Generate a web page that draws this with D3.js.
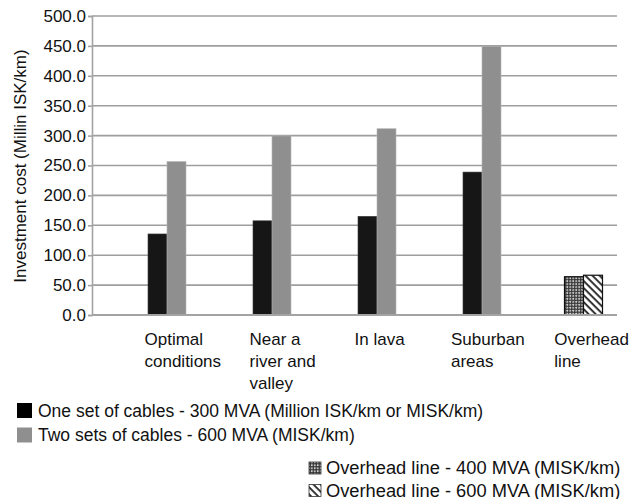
<!DOCTYPE html>
<html>
<head>
<meta charset="utf-8">
<script src="https://cdn.jsdelivr.net/npm/d3@7"></script>
<style>
  body { margin: 0; background: #fff; }
  svg { display: block; }
  text { font-family: "Liberation Sans", Arial, Helvetica, sans-serif; fill: #111; }
</style>
</head>
<body>
<svg id="chart" width="631" height="499"></svg>
<script>
// ---- data ----
const categories = [
  ["Optimal", "conditions"],
  ["Near a", "river and", "valley"],
  ["In lava"],
  ["Suburban", "areas"],
  ["Overhead", "line"]
];
const categoryKeys = ["Optimal conditions", "Near a river and valley", "In lava", "Suburban areas", "Overhead line"];
const cableSeries = ["One set of cables - 300 MVA (Million ISK/km or MISK/km)", "Two sets of cables - 600 MVA (MISK/km)"];
const oneSetValues = [135.5, 157.5, 165.0, 239.0, null];
const twoSetValues = [256.5, 299.5, 311.5, 449.5, null];
const overheadSeries = ["Overhead line - 400 MVA (MISK/km)", "Overhead line - 600 MVA (MISK/km)"];
const overhead400Values = [null, null, null, null, 64.0];
const overhead600Values = [null, null, null, null, 66.5];
const yTicks = [0, 50, 100, 150, 200, 250, 300, 350, 400, 450, 500];
const yTitle = "Investment cost (Millin ISK/km)";

// ---- layout ----
const svg = d3.select("#chart");
const pLeft = 92, pRight = 617, pTop = 16, pBottom = 315;
const fs = 17;

const x = d3.scaleBand().domain(categoryKeys).range([pLeft, pRight]).paddingInner(0).paddingOuter(0);
const y = d3.scaleLinear().domain([0, 500]).range([pBottom, pTop]);
const barW = 19;

const defs = svg.append("defs");
const p1 = defs.append("pattern").attr("id", "checks").attr("patternUnits", "userSpaceOnUse")
  .attr("width", 4.2).attr("height", 4.2).attr("patternTransform", "rotate(45)");
p1.append("rect").attr("width", 4.2).attr("height", 4.2).attr("fill", "#3a3a3a");
p1.append("rect").attr("x", 0.6).attr("y", 0.6).attr("width", 1.5).attr("height", 1.5).attr("fill", "#fff");
p1.append("rect").attr("x", 2.7).attr("y", 2.7).attr("width", 1.5).attr("height", 1.5).attr("fill", "#fff");
const p2 = defs.append("pattern").attr("id", "stripes").attr("patternUnits", "userSpaceOnUse")
  .attr("width", 5).attr("height", 5).attr("patternTransform", "rotate(45)");
p2.append("rect").attr("width", 5).attr("height", 5).attr("fill", "#fff");
p2.append("rect").attr("width", 5).attr("height", 1.8).attr("fill", "#222");

// gridlines
svg.append("g").selectAll("line").data(yTicks.filter(d => d > 0)).join("line")
  .attr("x1", pLeft).attr("x2", pRight)
  .attr("y1", d => y(d)).attr("y2", d => y(d))
  .attr("stroke", "#9e9e9e").attr("stroke-width", 1.6);

// y axis
const yAxis = d3.axisLeft(y).tickValues(yTicks).tickFormat(d3.format(".1f")).tickSize(4).tickPadding(2);
const ya = svg.append("g").attr("transform", `translate(${pLeft},0)`).call(yAxis);
ya.select(".domain").attr("stroke", "#a3a3a3").attr("stroke-width", 1.6);
ya.selectAll(".tick line").attr("stroke", "#a3a3a3").attr("stroke-width", 1.6);
ya.selectAll(".tick text").attr("font-size", fs).attr("fill", "#111")
  .attr("font-family", "Liberation Sans, Arial, sans-serif");

// bars - cables
const cableData = [oneSetValues, twoSetValues];
const cableColors = ["#161616", "#8f8f8f"];
cableData.forEach((vals, si) => {
  svg.append("g").selectAll("rect").data(categoryKeys.map((c, i) => ({c, v: vals[i]})).filter(d => d.v != null))
    .join("rect")
    .attr("x", d => x(d.c) + x.bandwidth() / 2 + 3.5 + si * barW)
    .attr("y", d => y(d.v))
    .attr("width", barW)
    .attr("height", d => y(0) - y(d.v))
    .attr("fill", cableColors[si])
    .attr("stroke", si === 0 ? "#3a3a3a" : "#b5b5b5").attr("stroke-width", 0.6);
});
// bars - overhead
const ohData = [overhead400Values, overhead600Values];
const ohFills = ["url(#checks)", "url(#stripes)"];
ohData.forEach((vals, si) => {
  svg.append("g").selectAll("rect").data(categoryKeys.map((c, i) => ({c, v: vals[i]})).filter(d => d.v != null))
    .join("rect")
    .attr("x", d => x(d.c) + x.bandwidth() / 2 + si * barW)
    .attr("y", d => y(d.v))
    .attr("width", barW)
    .attr("height", d => y(0) - y(d.v))
    .attr("fill", ohFills[si])
    .attr("stroke", "#111").attr("stroke-width", 1.2);
});

// x axis baseline
svg.append("line").attr("x1", pLeft).attr("x2", pRight).attr("y1", y(0)).attr("y2", y(0))
  .attr("stroke", "#a3a3a3").attr("stroke-width", 1.8);

// category labels (left aligned, starting at category center, kept inside the page)
const labG = svg.append("g");
categoryKeys.forEach((c, i) => {
  const t = labG.append("text").attr("font-size", fs);
  categories[i].forEach((line, li) => {
    t.append("tspan").attr("x", 0).attr("y", 345 + li * 22).text(line);
  });
  const w = t.node().getBBox().width;
  let x0 = x(c) + x.bandwidth() / 2;
  if (i === 3) x0 -= 8.5;
  if (x0 + w > 629) x0 = 629 - w;
  t.attr("transform", `translate(${x0},0)`);
});

// y title
svg.append("text").attr("transform", `translate(26,166) rotate(-90)`)
  .attr("text-anchor", "middle").attr("font-size", fs).text(yTitle);

// legends
const leg1 = svg.append("g");
cableSeries.forEach((s, i) => {
  const yy = 403 + i * 24.5;
  leg1.append("rect").attr("x", 17).attr("y", yy).attr("width", 15).attr("height", 15)
    .attr("fill", i === 0 ? "#000" : "#8f8f8f");
  leg1.append("text").attr("x", 38).attr("y", yy + 13.5).attr("font-size", 17.5).text(s);
});
const leg2 = svg.append("g");
overheadSeries.forEach((s, i) => {
  const yy = 462 + i * 22.5;
  leg2.append("rect").attr("x", 309).attr("y", yy).attr("width", 12).attr("height", 12)
    .attr("fill", ohFills[i]).attr("stroke", "#333").attr("stroke-width", 0.8);
  leg2.append("text").attr("x", 326).attr("y", yy + 12).attr("font-size", 18.3).text(s);
});
</script>
</body>
</html>
